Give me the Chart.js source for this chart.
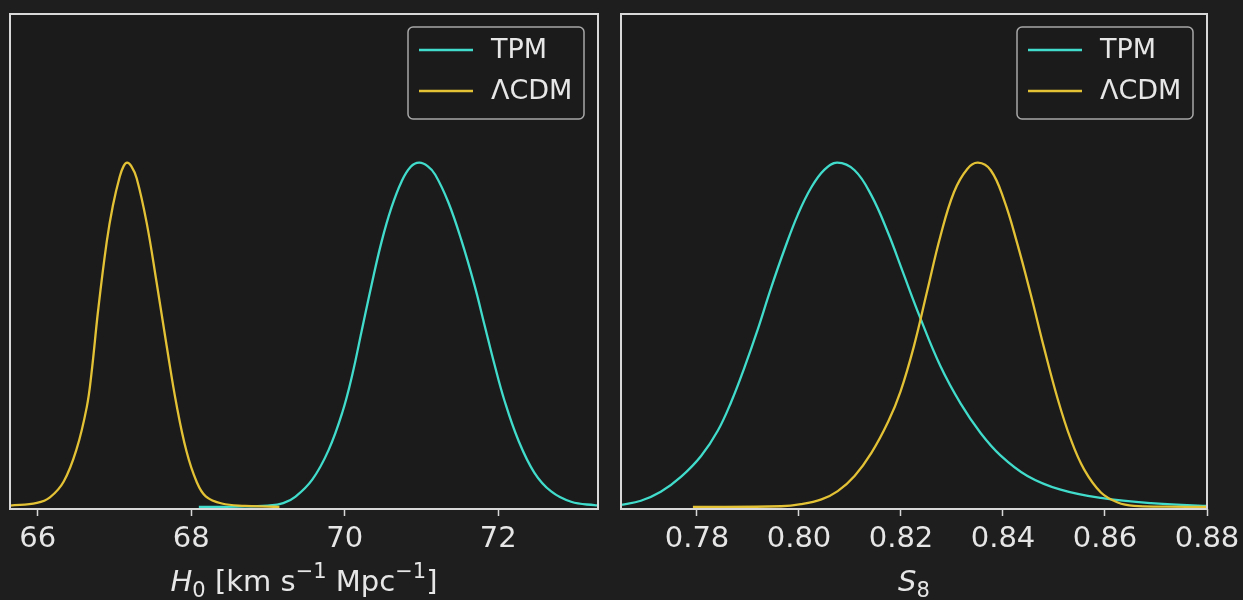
<!DOCTYPE html>
<html>
<head>
<meta charset="utf-8">
<script src="https://cdn.jsdelivr.net/npm/chart.js@4.4.1/dist/chart.umd.min.js"></script>
<style>
html,body{margin:0;padding:0;background:#1e1e1e;}
body{width:1243px;height:600px;position:relative;overflow:hidden;}
.panel{position:absolute;top:0;height:600px;}
</style>
</head>
<body>
<div class="panel" style="left:0;width:612px"><canvas id="h0Chart"></canvas></div>
<div class="panel" style="left:612px;width:631px"><canvas id="s8Chart"></canvas></div>
<script>
// H0 panel (normalised posterior, peak = 1)
var h0TpmX=[68.1,68.6,69.0,69.2,69.36,69.58,69.79,69.97,70.10,70.22,70.35,70.48,70.61,70.74,70.86,70.97,71.08,71.18,71.35,71.52,71.69,71.82,71.95,72.08,72.26,72.47,72.69,72.95,73.25,73.35];
var h0TpmY=[0,0.001,0.004,0.011,0.030,0.080,0.165,0.275,0.385,0.51,0.645,0.77,0.87,0.945,0.988,1.0,0.99,0.965,0.885,0.775,0.645,0.53,0.415,0.31,0.195,0.10,0.045,0.015,0.005,0.004];
var h0LcdmX=[65.64,65.99,66.16,66.34,66.51,66.64,66.70,66.79,66.90,66.98,67.07,67.12,67.165,67.22,67.29,67.42,67.55,67.68,67.81,67.94,68.07,68.19,68.4,68.7,69.0,69.15];
var h0LcdmY=[0.004,0.012,0.028,0.074,0.17,0.29,0.385,0.575,0.77,0.875,0.96,0.99,1.0,0.99,0.955,0.826,0.652,0.469,0.296,0.161,0.074,0.031,0.010,0.003,0.001,0];
var h0Ticks=[66,68,70,72];

// S8 panel
var s8TpmX=[0.7651,0.7690,0.7729,0.7769,0.7808,0.7841,0.7867,0.7893,0.7919,0.7945,0.7972,0.7998,0.8024,0.8050,0.8075,0.8109,0.8142,0.8175,0.8203,0.8237,0.8277,0.8317,0.8356,0.8395,0.8448,0.8513,0.8592,0.8690,0.8802];
var s8TpmY=[0.006,0.018,0.044,0.088,0.148,0.222,0.305,0.405,0.515,0.635,0.750,0.850,0.928,0.980,1.0,0.978,0.905,0.795,0.685,0.552,0.410,0.300,0.215,0.150,0.090,0.050,0.026,0.011,0.003];
var s8LcdmX=[0.7792,0.7965,0.8004,0.8044,0.8076,0.8109,0.8142,0.8175,0.8199,0.8225,0.8251,0.8277,0.8304,0.8330,0.8351,0.8376,0.8402,0.8428,0.8454,0.8480,0.8507,0.8533,0.8559,0.8592,0.8625,0.8657,0.8720,0.8802];
var s8LcdmY=[0,0.002,0.008,0.022,0.046,0.09,0.157,0.248,0.335,0.465,0.625,0.785,0.915,0.982,1.0,0.978,0.892,0.765,0.62,0.465,0.315,0.196,0.109,0.042,0.013,0.003,0.001,0];
var s8Ticks=[0.78,0.80,0.82,0.84,0.86,0.88];

var seriesNames=["TPM","\u039BCDM"];
var h0Title=[["H","it"],["0","sub"],[" [km s",""],["\u22121","sup"],[" Mpc",""],["\u22121","sup"],["]",""]];
var s8Title=[["S","it"],["8","sub"]];

var CYAN='#41dccb', YELLOW='#e3c236', FG='#e6e6e6', FONT='"DejaVu Sans"';

function pts(xs,ys){ return xs.map(function(x,i){ return {x:x,y:ys[i]}; }); }

// axes background + frame like matplotlib spines
var framePlugin={
  id:'frame',
  beforeDatasetsDraw:function(chart){
    var a=chart.chartArea, ctx=chart.ctx;
    ctx.save(); ctx.fillStyle='#1b1b1b';
    ctx.fillRect(a.left,a.top,a.right-a.left,a.bottom-a.top); ctx.restore();
  },
  afterDatasetsDraw:function(chart){
    var a=chart.chartArea, ctx=chart.ctx;
    ctx.save(); ctx.strokeStyle='#d8d8d8'; ctx.lineWidth=2;
    ctx.strokeRect(a.left,a.top,a.right-a.left,a.bottom-a.top); ctx.restore();
  }
};

var legendPlugin={
  id:'boxLegend',
  afterDraw:function(chart){
    var a=chart.chartArea, ctx=chart.ctx, w=176, h=92;
    var x=a.right-14-w, y=a.top+13;
    ctx.save();
    ctx.beginPath(); ctx.roundRect(x,y,w,h,5);
    ctx.fillStyle='rgba(27,27,27,0.85)'; ctx.fill();
    ctx.strokeStyle='#a8a8a8'; ctx.lineWidth=1.5; ctx.stroke();
    chart.data.datasets.forEach(function(ds,i){
      var yy=y+23+i*41;
      ctx.strokeStyle=ds.borderColor; ctx.lineWidth=2.5;
      ctx.beginPath(); ctx.moveTo(x+11,yy); ctx.lineTo(x+65,yy); ctx.stroke();
      ctx.fillStyle=FG; ctx.font='27px '+FONT; ctx.textBaseline='middle'; ctx.textAlign='left';
      ctx.fillText(ds.label,x+83,yy+1);
    });
    ctx.restore();
  }
};

// x-axis label with italic symbol, sub- and superscripts
var titlePlugin={
  id:'richTitle',
  afterDraw:function(chart,args,opts){
    var ctx=chart.ctx, a=chart.chartArea, size=29;
    var parts=opts.segs.map(function(s){
      var small=(s[1]==='sub'||s[1]==='sup');
      var font=(s[1]==='it'?'italic ':'')+(small?Math.round(size*0.72):size)+'px '+FONT;
      ctx.font=font;
      return {t:s[0],st:s[1],font:font,w:ctx.measureText(s[0]).width};
    });
    var total=parts.reduce(function(t,p){return t+p.w;},0);
    var x=(a.left+a.right)/2-total/2, base=591;
    ctx.save(); ctx.fillStyle=FG; ctx.textBaseline='alphabetic'; ctx.textAlign='left';
    parts.forEach(function(p){
      ctx.font=p.font;
      var dy=p.st==='sub'?6:(p.st==='sup'?-13:0);
      ctx.fillText(p.t,x,base+dy);
      x+=p.w;
    });
    ctx.restore();
  }
};

function makePanel(id,tpm,lcdm,xmin,xmax,ticks,fmt,segs,pad){
  return new Chart(document.getElementById(id),{
    type:'line',
    data:{datasets:[
      {label:seriesNames[0],data:tpm,borderColor:CYAN,borderWidth:2.3,pointRadius:0,tension:0.4,order:1},
      {label:seriesNames[1],data:lcdm,borderColor:YELLOW,borderWidth:2.3,pointRadius:0,tension:0.4,order:0}
    ]},
    options:{
      responsive:true, maintainAspectRatio:false, animation:false, events:[],
      layout:{padding:pad},
      plugins:{legend:{display:false},tooltip:{enabled:false},richTitle:{segs:segs}},
      scales:{
        x:{
          type:'linear', min:xmin, max:xmax,
          afterBuildTicks:function(s){ s.ticks=ticks.map(function(v){return {value:v};}); },
          afterFit:function(s){ s.height=91; s.paddingLeft=0; s.paddingRight=0; },
          ticks:{color:FG,font:{family:'DejaVu Sans',size:29},padding:6,maxRotation:0,autoSkip:false,callback:fmt},
          grid:{drawOnChartArea:false,drawTicks:true,tickLength:7,tickColor:'#d8d8d8',tickWidth:1.5},
          border:{display:false}
        },
        y:{display:false,min:-0.006,max:1.432}
      }
    },
    plugins:[framePlugin,titlePlugin,legendPlugin]
  });
}

makePanel('h0Chart',pts(h0TpmX,h0TpmY),pts(h0LcdmX,h0LcdmY),65.64,73.30,h0Ticks,
  function(v){return String(v);},h0Title,{left:10,right:14,top:14,bottom:0});
makePanel('s8Chart',pts(s8TpmX,s8TpmY),pts(s8LcdmX,s8LcdmY),0.7651,0.88,s8Ticks,
  function(v){return v.toFixed(2);},s8Title,{left:9,right:36,top:14,bottom:0});
</script>
</body>
</html>
